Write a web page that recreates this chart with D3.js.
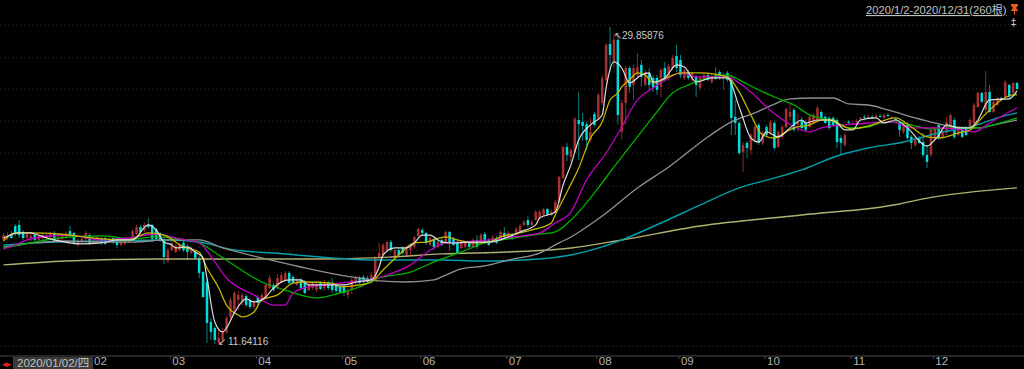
<!DOCTYPE html>
<html>
<head>
<meta charset="utf-8">
<script src="https://cdn.jsdelivr.net/npm/d3@7"></script>
<style>
  html, body { margin: 0; padding: 0; background: #000; overflow: hidden; }
  text { font-family: "Liberation Sans", sans-serif; }
</style>
</head>
<body>
<div id="main"></div>
<script>
// one row per trading day: open, close, high, low
const jan = [[17.66,17.94,18.06,17.60],[17.77,17.89,18.12,17.66],[17.94,17.77,18.17,17.72],[18.46,18.00,18.57,17.89],[18.52,17.94,18.80,17.77],[18.12,17.77,18.23,17.66],[17.77,18.00,18.12,17.72],[17.77,17.89,18.06,17.60],[17.94,17.66,18.06,17.49],[17.66,17.89,18.00,17.60],[17.77,17.94,18.06,17.66],[17.77,17.94,18.00,17.72],[17.83,18.00,18.12,17.77],[18.06,17.60,18.17,17.49],[17.66,17.77,17.89,17.49],[17.72,17.89,18.00,17.60],[17.83,18.00,18.12,17.72],[18.17,17.89,18.46,17.77],[18.06,17.49,18.12,17.37],[17.37,17.60,17.72,17.26],[17.54,17.72,17.83,17.49],[17.72,18.06,18.17,17.54],[17.94,17.49,18.06,17.37]];
const feb = [[17.49,17.77,17.89,17.43],[17.60,17.83,17.94,17.54],[17.77,17.49,17.83,17.37],[17.77,17.43,17.89,17.37],[17.54,17.72,17.83,17.49],[17.77,17.54,17.89,17.43],[17.66,17.37,17.77,17.20],[17.37,17.60,17.66,17.31],[17.43,17.60,17.72,17.37],[17.54,17.72,17.77,17.49],[17.72,18.17,18.29,17.66],[18.00,18.40,18.52,17.94],[18.40,18.12,18.52,18.00],[18.23,18.52,18.69,18.12],[18.52,18.40,18.92,18.29],[18.52,17.72,18.57,17.54],[18.29,17.72,18.35,17.60],[18.06,17.66,18.12,17.54],[17.72,16.68,17.77,16.28],[16.46,17.08,17.20,16.34]];
const mar = [[17.08,17.49,17.60,17.03],[16.97,17.31,17.43,16.91],[17.08,17.43,17.49,17.03],[17.49,17.08,17.60,16.97],[17.26,16.97,17.43,16.51],[16.91,17.14,17.26,16.86],[16.97,16.63,17.08,16.57],[16.63,15.77,16.74,15.48],[15.82,14.39,15.88,14.33],[15.25,12.90,15.48,11.76],[12.96,12.39,13.19,11.93],[12.62,11.93,12.73,11.70],[11.81,12.04,12.50,11.64],[11.93,12.39,12.62,11.81],[12.39,13.19,13.30,12.27],[13.25,14.22,14.33,13.13],[13.65,14.62,14.74,13.53],[14.22,14.51,14.74,13.65],[14.11,14.51,14.62,13.88],[14.45,13.93,14.56,13.82],[14.22,13.82,14.33,13.70],[13.82,14.11,14.22,13.70]];
const apr = [[14.39,14.05,14.51,13.88],[14.22,14.51,14.62,14.11],[14.33,15.08,15.20,14.28],[14.91,15.48,15.65,14.85],[15.08,14.79,15.20,14.68],[14.91,15.48,15.71,14.85],[15.25,15.65,15.82,15.20],[15.37,15.77,15.88,15.31],[15.77,15.20,15.88,15.08],[15.54,15.20,15.65,15.14],[15.08,15.37,15.48,15.02],[15.37,14.91,15.48,14.79],[15.25,14.62,15.37,14.56],[14.79,15.08,15.20,14.74],[14.91,15.20,15.31,14.79],[14.79,15.14,15.25,14.68],[15.20,14.85,15.31,14.79],[14.91,15.25,15.37,14.79],[15.20,14.91,15.31,14.79],[15.14,14.79,15.48,14.62],[15.08,14.74,15.20,14.62],[14.97,14.68,15.08,14.56]];
const may = [[15.02,14.62,15.14,14.45],[14.51,14.79,14.91,14.33],[14.79,15.37,15.48,14.56],[15.20,15.48,15.60,15.08],[15.48,15.20,15.60,15.14],[15.54,15.25,15.65,15.20],[15.48,15.25,15.60,15.14],[15.25,15.65,15.82,15.14],[15.37,16.63,16.74,15.31],[16.63,16.91,17.49,16.51],[16.80,17.37,17.49,16.63],[17.08,17.54,17.60,16.97],[17.54,17.08,17.66,16.97],[16.68,17.08,17.14,16.63],[17.08,16.80,17.20,16.68],[17.20,16.91,17.31,16.80],[16.80,17.20,17.31,16.68],[17.08,17.26,17.37,16.74],[17.26,17.83,17.89,17.14],[17.89,18.29,18.35,17.83]];
const jun = [[18.23,18.06,18.35,17.89],[18.06,17.49,18.12,17.37],[17.37,17.77,17.89,17.31],[17.72,17.26,17.83,17.08],[17.26,17.54,17.66,17.20],[17.66,17.37,17.77,17.31],[17.49,18.12,18.17,17.43],[18.12,17.49,18.17,17.08],[17.72,17.37,17.83,17.31],[17.54,16.91,17.66,16.86],[17.20,17.49,17.60,17.14],[17.26,17.49,17.60,17.20],[17.49,17.26,17.60,17.20],[17.26,17.66,17.77,17.20],[17.66,17.26,17.94,17.14],[17.54,17.94,18.06,17.49],[18.00,17.54,18.12,17.43],[17.66,17.37,17.77,17.31],[17.54,17.83,17.94,17.49],[17.77,17.49,17.89,17.43],[17.77,18.12,18.23,17.66],[18.06,17.83,18.40,17.72]];
const jul = [[17.77,18.06,18.17,17.72],[17.94,17.77,18.06,17.66],[17.94,18.29,18.40,17.89],[18.17,18.46,18.57,18.12],[18.52,18.69,18.80,18.46],[18.80,18.52,19.03,18.40],[18.52,18.69,18.80,18.46],[18.80,19.26,19.38,18.75],[18.92,19.26,19.38,18.86],[19.09,19.43,19.49,19.03],[19.43,19.09,19.49,19.03],[19.09,19.26,19.38,19.03],[19.26,19.84,19.95,19.20],[19.84,21.27,21.33,19.78],[21.21,22.99,23.04,21.15],[22.99,22.53,23.22,22.18],[22.41,22.81,22.93,22.13],[22.70,24.59,24.71,22.64],[24.53,24.30,26.14,22.24],[24.42,24.19,24.93,23.33],[24.30,23.39,24.42,22.81],[23.39,23.85,24.65,23.27],[24.88,24.25,25.00,24.13]];
const aug = [[24.65,25.97,26.08,24.53],[25.51,26.94,27.11,25.39],[26.83,28.83,28.95,26.71],[28.89,28.26,29.86,27.28],[27.86,29.12,29.46,27.51],[29.12,24.82,29.46,24.30],[23.85,25.51,25.68,23.39],[25.51,27.51,27.63,24.25],[27.51,26.43,27.63,26.08],[26.54,27.51,27.69,25.68],[27.11,27.57,28.37,26.99],[27.69,27.00,27.97,26.43],[26.54,27.28,27.40,26.43],[27.23,26.54,27.51,26.25],[26.94,26.37,27.11,26.14],[26.94,26.25,27.11,25.97],[26.43,27.40,27.51,25.85],[27.51,26.83,27.86,26.71],[26.94,27.63,27.74,26.83],[27.51,28.09,28.26,27.40],[28.20,27.51,28.83,27.28]];
const sep = [[27.97,27.11,28.26,26.94],[26.94,27.40,27.51,26.83],[27.28,26.94,27.40,26.83],[26.83,27.23,27.28,26.71],[27.00,26.54,27.11,25.85],[26.37,26.94,27.05,26.25],[26.88,27.11,27.23,26.77],[27.11,26.83,27.23,26.77],[26.71,27.05,27.17,26.60],[27.11,26.88,27.57,26.83],[27.28,26.94,27.40,26.83],[26.94,27.11,27.23,26.25],[27.23,26.83,27.34,26.71],[26.83,24.65,26.94,23.67],[24.71,24.36,25.68,23.67],[24.36,22.64,24.48,22.53],[22.70,23.10,23.27,21.55],[23.22,22.93,23.33,22.36],[22.81,23.67,23.79,22.53],[23.39,24.13,24.25,23.27],[24.25,23.22,24.36,23.10],[23.22,23.79,23.90,23.10]];
const oct = [[24.13,23.67,24.25,23.56],[23.79,24.42,24.53,23.67],[24.36,22.93,24.48,22.81],[22.99,23.85,23.96,22.93],[23.56,24.13,24.25,23.45],[24.13,25.16,25.22,24.07],[24.71,25.00,25.50,24.50],[25.11,23.96,25.22,23.85],[24.25,24.42,24.93,23.85],[24.53,24.07,24.71,23.96],[24.36,23.96,24.53,23.85],[24.13,24.71,24.82,24.07],[24.36,24.82,24.93,24.30],[24.53,25.22,25.34,24.48],[24.99,24.65,25.11,24.59],[24.71,24.36,24.82,24.30],[24.65,24.07,24.76,23.96],[24.65,24.25,24.76,24.13],[24.53,23.27,24.65,22.93],[23.50,23.22,23.67,22.53],[23.10,23.67,23.79,22.99],[24.42,24.36,24.53,24.30]];
const nov = [[24.30,24.36,24.48,24.25],[24.36,24.48,24.59,24.30],[24.59,24.65,24.71,24.53],[24.71,24.65,24.82,24.59],[24.65,24.71,24.82,24.59],[24.71,24.65,24.82,24.59],[24.71,24.76,24.88,24.65],[24.76,24.71,24.88,24.65],[24.65,24.82,24.93,24.59],[24.82,24.76,24.93,24.71],[24.65,24.71,24.76,24.59],[24.59,24.53,24.71,24.48],[24.36,23.96,24.48,23.56],[23.85,24.36,24.48,23.73],[24.25,23.50,24.42,23.39],[23.56,23.22,23.67,22.87],[23.10,23.39,23.50,22.99],[23.50,23.22,23.62,23.16],[23.27,22.53,23.79,22.41],[22.53,22.13,23.10,21.78],[22.53,23.96,24.07,22.41]];
const dec = [[23.50,24.02,24.13,23.39],[24.25,23.50,24.36,23.39],[23.50,23.85,23.96,23.45],[23.79,24.42,24.71,23.67],[24.13,24.82,24.88,24.07],[24.53,23.56,24.65,23.45],[23.67,23.96,24.07,23.62],[23.96,23.56,24.07,23.50],[24.07,23.67,24.19,23.62],[24.07,24.53,24.65,23.96],[24.36,25.39,25.51,24.30],[25.28,26.08,26.14,25.22],[26.08,25.57,26.14,25.51],[25.11,26.14,27.34,24.82],[26.14,24.99,26.54,24.93],[24.99,25.57,25.68,24.93],[25.39,25.80,25.85,25.34],[25.80,25.68,25.85,25.62],[25.85,26.71,26.83,25.80],[26.54,25.85,26.60,25.80],[26.08,26.65,26.71,26.02],[26.65,26.31,26.71,26.25]];

const months = ["01","02","03","04","05","06","07","08","09","10","11","12"];
const gridPrices = [11.58,13.42,15.25,17.08,18.92,20.75,22.64,24.48,26.31,28.09,29.98];

// moving averages, [bar index, value]
const ma5 = [[0,17.77],[4,18.06],[7,18.06],[8,18.00],[12,17.72],[20,17.43],[25,17.49],[29,17.66],[33,17.66],[37,18.52],[39,18.23],[41,17.54],[43,17.37],[44,17.20],[47,17.26],[49,16.97],[51,16.63],[52,15.48],[54,12.96],[56,12.39],[57,12.62],[59,13.48],[62,14.28],[64,14.11],[67,14.39],[69,14.91],[73,15.37],[76,15.37],[78,15.08],[84,15.08],[87,15.08],[90,15.25],[94,15.37],[96,16.11],[97,16.80],[100,17.20],[103,17.20],[105,17.49],[107,17.94],[109,17.94],[112,17.54],[116,17.49],[120,17.54],[124,17.54],[129,17.83],[132,18.12],[136,18.52],[137,18.92],[141,19.26],[143,20.81],[145,21.96],[147,23.39],[150,24.25],[153,24.82],[154,26.37],[156,27.86],[158,27.51],[160,26.65],[163,27.11],[165,27.23],[166,26.71],[169,26.94],[172,27.69],[174,27.57],[177,26.71],[181,26.94],[185,26.94],[188,25.28],[191,23.50],[193,23.27],[195,23.85],[198,23.56],[201,24.08],[204,24.53],[205,24.36],[208,24.53],[211,24.53],[213,24.36],[215,23.96],[217,23.96],[219,24.53],[223,24.65],[225,24.36],[228,24.53],[231,24.08],[236,23.04],[239,23.67],[241,24.25],[244,24.08],[247,24.08],[249,24.53],[252,25.68],[257,25.74],[259,26.20]];
const ma10 = [[0,17.60],[3,18.06],[7,18.06],[14,18.00],[25,17.72],[32,17.66],[37,18.06],[41,17.94],[46,17.26],[50,16.97],[52,16.05],[55,14.91],[57,13.93],[60,13.36],[61,13.25],[64,13.53],[66,14.22],[70,14.51],[74,15.19],[77,15.25],[84,15.19],[86,14.97],[91,15.08],[94,15.25],[97,15.94],[101,16.80],[105,17.49],[108,17.54],[113,17.83],[116,17.66],[120,17.49],[124,17.54],[127,17.83],[132,18.06],[136,18.29],[140,18.63],[141,19.09],[144,20.41],[147,21.78],[150,23.50],[153,24.42],[155,25.68],[157,26.08],[158,26.43],[160,26.83],[162,27.23],[164,27.11],[166,26.65],[170,27.00],[173,27.23],[178,27.23],[185,27.00],[188,26.14],[191,24.82],[194,23.67],[197,23.50],[200,23.85],[202,24.08],[206,24.25],[209,24.53],[212,24.53],[214,24.25],[217,24.02],[221,24.19],[228,24.65],[232,24.13],[236,23.56],[239,23.50],[244,23.79],[247,23.96],[250,24.65],[255,25.68],[258,25.97],[259,25.97]];
const ma20 = [[0,17.14],[3,17.37],[6,17.66],[12,17.89],[17,17.94],[25,17.66],[32,17.77],[39,18.00],[45,17.72],[50,17.49],[54,16.40],[57,15.48],[64,14.51],[69,13.93],[72,13.93],[74,14.62],[78,14.97],[83,15.08],[86,15.19],[94,15.37],[98,15.65],[104,16.23],[108,16.91],[113,17.49],[117,17.54],[124,17.66],[130,17.83],[137,18.06],[141,18.63],[145,19.26],[149,21.10],[154,22.64],[158,24.13],[162,25.68],[166,26.37],[170,26.94],[173,27.23],[177,27.00],[185,27.00],[188,26.65],[191,26.14],[195,25.28],[200,24.42],[206,23.85],[209,24.08],[215,24.25],[221,24.36],[227,24.42],[232,24.08],[239,24.08],[245,23.96],[248,23.85],[252,24.36],[257,24.99],[259,25.22]];
const ma30 = [[0,17.20],[8,17.54],[14,17.77],[25,17.89],[33,17.72],[39,17.83],[45,17.72],[50,17.49],[55,16.80],[60,16.05],[66,15.25],[72,14.79],[80,14.34],[86,14.62],[91,14.97],[96,15.48],[104,15.82],[110,16.40],[117,16.97],[123,17.49],[129,17.72],[135,17.94],[141,18.12],[145,18.80],[152,20.64],[156,21.84],[159,22.70],[166,24.71],[171,26.08],[175,26.54],[180,26.94],[185,27.11],[188,26.83],[193,26.25],[197,25.85],[202,25.39],[206,24.82],[211,24.53],[216,24.08],[221,24.13],[224,24.36],[228,24.42],[232,24.25],[237,24.02],[243,24.08],[249,24.08],[253,24.25],[259,24.65]];
const ma60 = [[0,17.26],[8,17.49],[16,17.60],[25,17.54],[33,17.54],[42,17.66],[50,17.66],[56,17.20],[66,16.63],[76,16.11],[86,15.65],[91,15.48],[96,15.31],[103,15.25],[110,15.37],[113,15.65],[117,16.00],[123,16.17],[129,16.51],[137,16.91],[142,17.49],[145,17.83],[153,19.03],[162,20.64],[170,21.84],[180,23.56],[186,24.42],[192,24.94],[196,25.34],[201,25.74],[207,25.79],[212,25.79],[216,25.45],[221,25.39],[226,25.11],[233,24.65],[238,24.36],[243,24.13],[249,24.08],[254,24.30],[259,24.53]];
const ma120 = [[0,17.37],[8,17.49],[25,17.60],[42,17.66],[50,17.54],[59,17.08],[69,16.91],[84,16.63],[95,16.51],[112,16.51],[122,16.45],[137,16.57],[145,16.80],[153,17.26],[158,17.66],[168,18.63],[178,19.66],[188,20.64],[198,21.27],[204,21.67],[213,22.47],[221,22.93],[230,23.27],[235,23.56],[240,23.85],[247,24.13],[254,24.65],[259,24.94]];
const ma250 = [[0,16.23],[16,16.45],[39,16.57],[59,16.57],[84,16.57],[99,16.68],[112,16.86],[129,16.97],[145,17.20],[158,17.66],[178,18.46],[204,19.09],[229,19.72],[235,20.01],[259,20.64]];

const ctx = {
    SVG_W: 1024,
    SVG_H: 369,
    UP: "#a83030",
    UP_WICK: "#8a2828",
    DOWN: "#00dcdc",
    DOWN_WICK: "#0a8080",
};

const monthBars = [jan,feb,mar,apr,may,jun,jul,aug,sep,oct,nov,dec];
const bars = monthBars.flat();

// first bar of every month gets a tick
let firstBars = [];
let running = 0;
monthBars.forEach(m => { firstBars.push(running); running += m.length; });

const lines = [
    { data: ma250, color: "#b0b070", width: 1.4 },
    { data: ma120, color: "#00a0ac", width: 1.4 },
    { data: ma60, color: "#909090", width: 1.3 },
    { data: ma30, color: "#00b000", width: 1.3 },
    { data: ma20, color: "#c000c0", width: 1.3 },
    { data: ma10, color: "#c0b800", width: 1.3 },
    { data: ma5, color: "#dcdcdc", width: 1.2 },
];

function drawChart(svgEl) {
    let x = d3.scaleLinear().domain([0, bars.length - 1]).range([3.5, 1017]);
    let y = d3.scaleLinear().domain([11.64116, 29.85876]).range([345, 27]);

    // dotted price grid
    svgEl.selectAll(".grid")
        .data(gridPrices)
        .enter().append("line")
        .attr("class", "grid")
        .attr("x1", 0)
        .attr("x2", ctx.SVG_W)
        .attr("y1", d => y(d))
        .attr("y2", d => y(d))
        .attr("stroke", "#2c2c2c")
        .attr("stroke-dasharray", "1,3");

    // candles: wick first, then the body
    svgEl.selectAll(".wick")
        .data(bars)
        .enter().append("line")
        .attr("class", "wick")
        .attr("x1", (d, i) => x(i))
        .attr("x2", (d, i) => x(i))
        .attr("y1", d => y(d[2]))
        .attr("y2", d => y(d[3]))
        .attr("stroke", d => d[1] >= d[0] ? ctx.UP_WICK : ctx.DOWN_WICK);

    svgEl.selectAll(".body")
        .data(bars)
        .enter().append("rect")
        .attr("class", "body")
        .attr("x", (d, i) => x(i) - 1.25)
        .attr("width", 2.5)
        .attr("y", d => y(Math.max(d[0], d[1])))
        .attr("height", d => Math.max(1, Math.abs(y(d[0]) - y(d[1]))))
        .attr("fill", d => d[1] >= d[0] ? ctx.UP : ctx.DOWN);

    let lineGen = d3.line()
        .x(d => x(d[0]))
        .y(d => y(d[1]))
        .curve(d3.curveMonotoneX);

    svgEl.selectAll(".ma")
        .data(lines)
        .enter().append("path")
        .attr("class", "ma")
        .attr("d", d => lineGen(d.data))
        .attr("fill", "none")
        .attr("stroke", d => d.color)
        .attr("stroke-width", d => d.width);

    // bottom axis, month labels sit right of the tick
    let axis = d3.axisBottom(x)
        .tickValues(firstBars.slice(1))
        .tickFormat(d => months[firstBars.indexOf(d)])
        .tickSize(3)
        .tickSizeOuter(0);

    let axisG = svgEl.append("g")
        .attr("transform", "translate(-2,356)")
        .call(axis);
    axisG.select(".domain").attr("d", "M2,0H1026").attr("stroke", "#4a4a4a");
    axisG.selectAll(".tick line").attr("stroke", "#4a4a4a");
    axisG.selectAll(".tick text")
        .attr("x", 2)
        .attr("y", 1)
        .attr("text-anchor", "start")
        .attr("fill", "#b4b4b4")
        .style("font-size", "11.5px")
        .style("font-family", "\"Liberation Sans\", sans-serif");

    // current date box
    svgEl.append("rect")
        .attr("x", 13).attr("y", 357)
        .attr("width", 80).attr("height", 12)
        .attr("fill", "#3a3a3a");
    svgEl.append("text")
        .attr("x", 17).attr("y", 367)
        .attr("fill", "#c0c0c0")
        .style("font-size", "11.5px")
        .style("font-family", "\"Liberation Sans\", \"Noto Sans CJK SC\", sans-serif")
        .text("2020/01/02/四");
    svgEl.append("text")
        .attr("x", 2).attr("y", 367)
        .attr("fill", "#e02020")
        .style("font-size", "9px")
        .style("font-family", "\"DejaVu Sans\", sans-serif")
        .text("◂▸");

    // high and low markers
    svgEl.append("text")
        .attr("x", 614).attr("y", 39)
        .attr("fill", "#c8c8c8")
        .style("font-size", "10px")
        .text("↖");
    svgEl.append("text")
        .attr("x", 622).attr("y", 39)
        .attr("fill", "#c8c8c8")
        .style("font-size", "10px")
        .text("29.85876");
    svgEl.append("text")
        .attr("x", 218).attr("y", 345)
        .attr("fill", "#c8c8c8")
        .style("font-size", "10px")
        .text("↙");
    svgEl.append("text")
        .attr("x", 228).attr("y", 345)
        .attr("fill", "#c8c8c8")
        .style("font-size", "10px")
        .text("11.64116");

    // range label and icons in the top right corner
    svgEl.append("text")
        .attr("x", 866).attr("y", 14)
        .attr("fill", "#c0c0c0")
        .attr("text-decoration", "underline")
        .style("font-size", "11.2px")
        .style("font-family", "\"Liberation Sans\", \"Noto Sans CJK SC\", sans-serif")
        .text("2020/1/2-2020/12/31(260根)");
    svgEl.append("path")
        .attr("d", "M1011,4H1018V6L1016.5,7V9L1018,10V11H1015V14L1014.5,15L1014,14V11H1011V10L1012.5,9V7L1011,6Z")
        .attr("fill", "#f05a1e");
    svgEl.append("text")
        .attr("x", 1013.5).attr("y", 26)
        .attr("text-anchor", "middle")
        .attr("fill", "#c8c8c8")
        .style("font-size", "10px")
        .style("font-family", "\"DejaVu Sans\", sans-serif")
        .text("‡");
}

function createViz() {
    let svgEl = d3.select("#main").append("svg");
    svgEl.attr("width", ctx.SVG_W);
    svgEl.attr("height", ctx.SVG_H);
    svgEl.style("display", "block");
    drawChart(svgEl);
}

createViz();
</script>
</body>
</html>
